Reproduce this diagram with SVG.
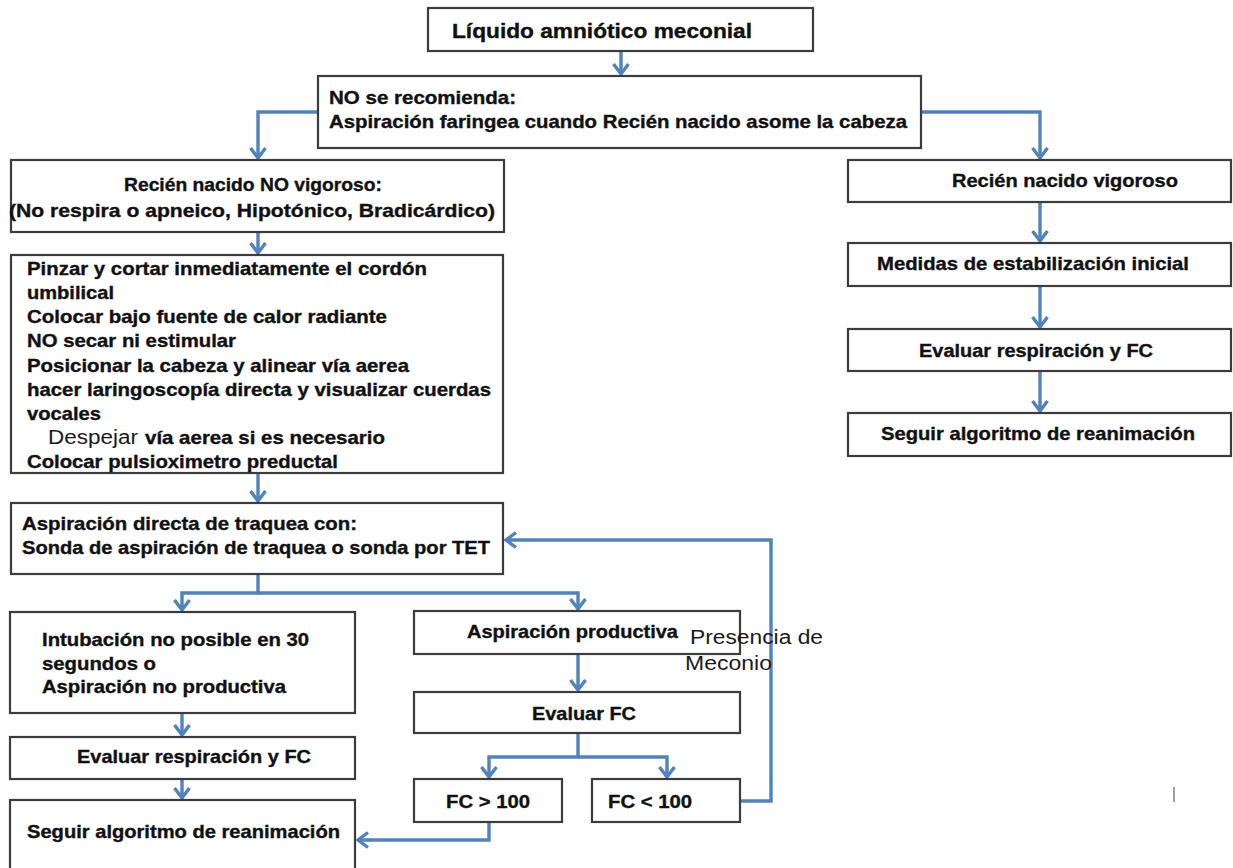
<svg xmlns="http://www.w3.org/2000/svg" width="1233" height="868" viewBox="0 0 1233 868">
<style>
.box{fill:#ffffff;stroke:#3c3c3c;stroke-width:2.2}
.t{font-family:"Liberation Sans",Arial,sans-serif;font-weight:bold;font-size:17.7px;fill:#111111;stroke:#111111;stroke-width:0.35}
.big{font-size:19.5px}
.r{font-family:"Liberation Sans",Arial,sans-serif;font-weight:normal;font-size:19.5px;fill:#1a1a1a}
.c{fill:none;stroke:#5082bf;stroke-width:3.4;stroke-linejoin:miter}
.tick{stroke:#8a8a8a;stroke-width:1.6}
</style>
<defs>
<marker id="ah" markerUnits="userSpaceOnUse" markerWidth="24" markerHeight="24" viewBox="-12 -12 24 24" refX="0" refY="0" orient="auto">
<path d="M-10,-7.5 L0,0 L-10,7.5" fill="none" stroke="#5082bf" stroke-width="3.4"/>
</marker>
</defs>
<rect width="1233" height="868" fill="#ffffff"/>

<g id="connectors">
<path class="c" d="M621,51 V74" marker-end="url(#ah)"/>
<path class="c" d="M318,112 H258 V158" marker-end="url(#ah)"/>
<path class="c" d="M921,112 H1040 V158" marker-end="url(#ah)"/>
<path class="c" d="M258,232 V253" marker-end="url(#ah)"/>
<path class="c" d="M1040,202 V241" marker-end="url(#ah)"/>
<path class="c" d="M1040,286 V327" marker-end="url(#ah)"/>
<path class="c" d="M1040,371 V411" marker-end="url(#ah)"/>
<path class="c" d="M258,473 V501" marker-end="url(#ah)"/>
<path class="c" d="M258,574 V593 H182 V610" marker-end="url(#ah)"/>
<path class="c" d="M258,593 H578 V609" marker-end="url(#ah)"/>
<path class="c" d="M182,713 V735" marker-end="url(#ah)"/>
<path class="c" d="M182,779 V798" marker-end="url(#ah)"/>
<path class="c" d="M578,654 V690" marker-end="url(#ah)"/>
<path class="c" d="M578,733 V757 H489 V777" marker-end="url(#ah)"/>
<path class="c" d="M578,757 H667 V777" marker-end="url(#ah)"/>
<path class="c" d="M489,822 V840 H358" marker-end="url(#ah)"/>
<path class="c" d="M740,801 H771 V540 H506" marker-end="url(#ah)"/>
</g>

<g id="n1">
<rect class="box" x="428" y="8" width="385" height="43"/>
<text class="t big" x="452" y="38" textLength="300" lengthAdjust="spacingAndGlyphs">Líquido amniótico meconial</text>
</g>

<g id="n2">
<rect class="box" x="318" y="76" width="603" height="72"/>
<text class="t" x="329" y="104" textLength="187" lengthAdjust="spacingAndGlyphs">NO se recomienda:</text>
<text class="t" x="329" y="128" textLength="578" lengthAdjust="spacingAndGlyphs">Aspiración faringea cuando Recién nacido asome la cabeza</text>
</g>

<g id="n3">
<rect class="box" x="11" y="160" width="493" height="72"/>
<text class="t" x="124" y="191" textLength="258" lengthAdjust="spacingAndGlyphs">Recién nacido NO vigoroso:</text>
<text class="t" x="9" y="217" textLength="486" lengthAdjust="spacingAndGlyphs">(No respira o apneico, Hipotónico, Bradicárdico)</text>
</g>

<g id="n4">
<rect class="box" x="11" y="255" width="492" height="218"/>
<text class="t" x="27" y="275" textLength="400" lengthAdjust="spacingAndGlyphs">Pinzar y cortar inmediatamente el cordón</text>
<text class="t" x="27" y="299" textLength="87" lengthAdjust="spacingAndGlyphs">umbilical</text>
<text class="t" x="27" y="323" textLength="360" lengthAdjust="spacingAndGlyphs">Colocar bajo fuente de calor radiante</text>
<text class="t" x="27" y="347" textLength="209" lengthAdjust="spacingAndGlyphs">NO secar ni estimular</text>
<text class="t" x="27" y="372" textLength="382" lengthAdjust="spacingAndGlyphs">Posicionar la cabeza y alinear vía aerea</text>
<text class="t" x="27" y="396" textLength="464" lengthAdjust="spacingAndGlyphs">hacer laringoscopía directa y visualizar cuerdas</text>
<text class="t" x="27" y="420" textLength="74" lengthAdjust="spacingAndGlyphs">vocales</text>
<text class="r" x="48" y="444" textLength="90" lengthAdjust="spacingAndGlyphs">Despejar</text>
<text class="t" x="145" y="444" textLength="240" lengthAdjust="spacingAndGlyphs">vía aerea si es necesario</text>
<text class="t" x="27" y="468" textLength="311" lengthAdjust="spacingAndGlyphs">Colocar pulsioximetro preductal</text>
</g>

<g id="n5">
<rect class="box" x="11" y="503" width="492" height="71"/>
<text class="t" x="22" y="530" textLength="335" lengthAdjust="spacingAndGlyphs">Aspiración directa de traquea con:</text>
<text class="t" x="22" y="554" textLength="468" lengthAdjust="spacingAndGlyphs">Sonda de aspiración de traquea o sonda por TET</text>
</g>

<g id="n6">
<rect class="box" x="10" y="612" width="345" height="101"/>
<text class="t" x="42" y="646" textLength="267" lengthAdjust="spacingAndGlyphs">Intubación no posible en 30</text>
<text class="t" x="42" y="670" textLength="114" lengthAdjust="spacingAndGlyphs">segundos o</text>
<text class="t" x="42" y="693" textLength="244" lengthAdjust="spacingAndGlyphs">Aspiración no productiva</text>
</g>

<g id="n7">
<rect class="box" x="10" y="737" width="345" height="42"/>
<text class="t" x="77" y="763" textLength="234" lengthAdjust="spacingAndGlyphs">Evaluar respiración y FC</text>
</g>

<g id="n8">
<rect class="box" x="10" y="800" width="345" height="80"/>
<text class="t" x="27" y="838" textLength="313" lengthAdjust="spacingAndGlyphs">Seguir algoritmo de reanimación</text>
</g>

<g id="n9">
<rect class="box" x="414" y="611" width="326" height="43"/>
<text class="t" x="467" y="638" textLength="211" lengthAdjust="spacingAndGlyphs">Aspiración productiva</text>
</g>

<g id="n10">
<rect class="box" x="414" y="692" width="326" height="41"/>
<text class="t" x="532" y="720" textLength="104" lengthAdjust="spacingAndGlyphs">Evaluar FC</text>
</g>

<g id="n11">
<rect class="box" x="414" y="779" width="148" height="43"/>
<text class="t" x="446" y="808" textLength="84" lengthAdjust="spacingAndGlyphs">FC &gt; 100</text>
</g>

<g id="n12">
<rect class="box" x="592" y="779" width="148" height="43"/>
<text class="t" x="608" y="808" textLength="84" lengthAdjust="spacingAndGlyphs">FC &lt; 100</text>
</g>

<g id="label-meconio">
<text class="r" x="690" y="644" textLength="133" lengthAdjust="spacingAndGlyphs">Presencia de</text>
<text class="r" x="685" y="670" textLength="87" lengthAdjust="spacingAndGlyphs">Meconio</text>
</g>

<g id="n13">
<rect class="box" x="848" y="160" width="383" height="42"/>
<text class="t" x="952" y="187" textLength="226" lengthAdjust="spacingAndGlyphs">Recién nacido vigoroso</text>
</g>

<g id="n14">
<rect class="box" x="848" y="243" width="383" height="43"/>
<text class="t" x="877" y="270" textLength="312" lengthAdjust="spacingAndGlyphs">Medidas de estabilización inicial</text>
</g>

<g id="n15">
<rect class="box" x="848" y="329" width="383" height="42"/>
<text class="t" x="919" y="357" textLength="234" lengthAdjust="spacingAndGlyphs">Evaluar respiración y FC</text>
</g>

<g id="n16">
<rect class="box" x="848" y="413" width="383" height="43"/>
<text class="t" x="881" y="440" textLength="314" lengthAdjust="spacingAndGlyphs">Seguir algoritmo de reanimación</text>
</g>

<line class="tick" x1="1174" y1="787" x2="1174" y2="802"/>
</svg>
